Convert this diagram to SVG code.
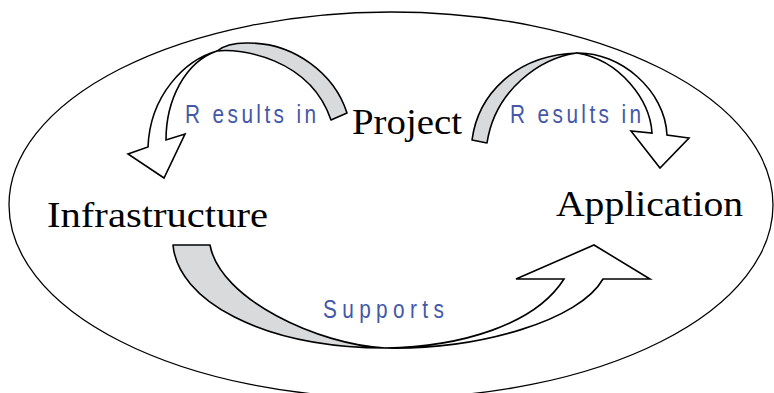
<svg xmlns="http://www.w3.org/2000/svg" width="774" height="393" viewBox="0 0 774 393">
<style>
.bg{fill:#ffffff}
.ring{fill:none;stroke:#000;stroke-width:1.3}
.back{fill:#d9dadc;stroke:#000;stroke-width:1.6;stroke-linejoin:round}
.front{fill:#ffffff;stroke:#000;stroke-width:1.6;stroke-linejoin:miter}
.node{font-family:"Liberation Serif","Times New Roman",serif;font-size:36px;fill:#000}
.lbl{font-family:"Liberation Sans",Arial,sans-serif;font-size:26px;fill:#4358a8}
</style>
<rect class="bg" x="0" y="0" width="774" height="393"/>
<ellipse class="ring" cx="391" cy="205" rx="382" ry="193"/>
<g id="connectors">
  <g id="arrow-project-infrastructure">
    <path class="back" d="M347,113 C335,75 295,42 246,43 C232,43 222,47 217,51 C240,48 310,58 331,120 Z"/>
    <path class="front" d="M217,51 C185,60 150,95 148,147 L128,154 L164,178 L185,134 L166,140 C166,100 185,62 217,51 Z"/>
  </g>
  <g id="arrow-project-application">
    <path class="back" d="M472,140 C478,95 515,55 577,53 C540,58 495,90 487,143 Z"/>
    <path class="front" d="M577,53 C620,52 665,90 667,135 L689,138 L660,168 L631,131 L652,133 C650,100 620,60 577,53 Z"/>
  </g>
  <g id="arrow-infrastructure-application">
    <path class="back" d="M173,245 L210,245 C220,300 320,345 385,348 C260,347 178,300 173,245 Z"/>
    <path class="front" d="M385,348 C480,350 580,320 603,279 L650,279 L594,245 L516,279 L564,279 C535,325 460,347 385,348 Z"/>
  </g>
  <text class="lbl" transform="translate(185,123) scale(0.8,1)" x="0" y="0" textLength="164" lengthAdjust="spacing">R esults in</text>
  <text class="lbl" transform="translate(510,123) scale(0.8,1)" x="0" y="0" textLength="164" lengthAdjust="spacing">R esults in</text>
  <text class="lbl" transform="translate(323,318) scale(0.8,1)" x="0" y="0" font-size="27" textLength="151" lengthAdjust="spacing">Supports</text>
</g>
<g id="node-project">
  <text class="node" x="352" y="134" font-size="34" textLength="110" lengthAdjust="spacingAndGlyphs">Project</text>
</g>
<g id="node-infrastructure">
  <text class="node" x="47" y="227" textLength="221" lengthAdjust="spacingAndGlyphs">Infrastructure</text>
</g>
<g id="node-application">
  <text class="node" x="556" y="216" textLength="187" lengthAdjust="spacingAndGlyphs">Application</text>
</g>
</svg>
